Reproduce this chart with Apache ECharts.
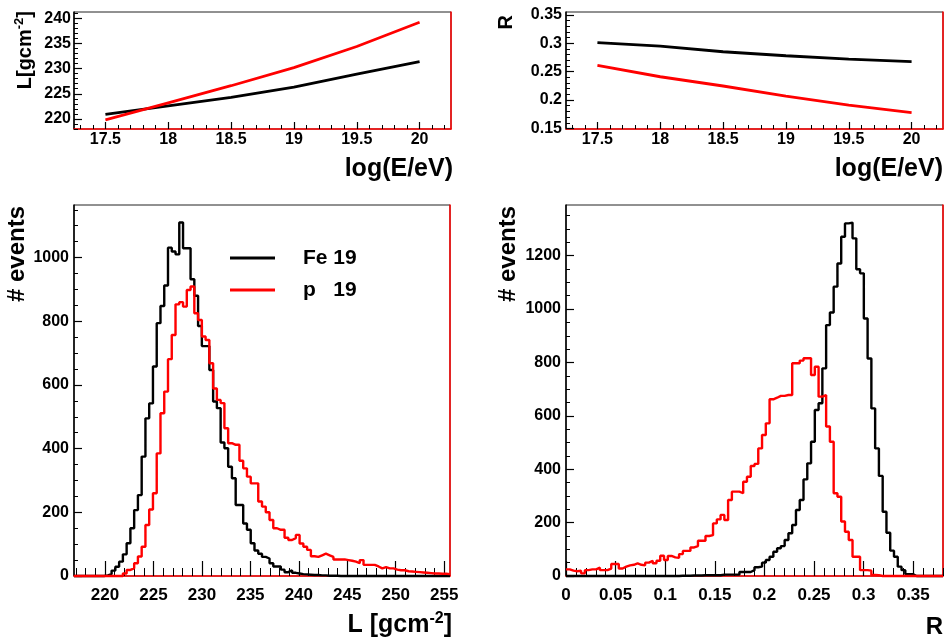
<!DOCTYPE html>
<html><head><meta charset="utf-8">
<script src="https://cdn.jsdelivr.net/npm/echarts@6/dist/echarts.min.js"></script>
<style>html,body{margin:0;padding:0;background:#fff}#c{width:947px;height:642px}</style>
</head><body><div id="c"></div>
<script>
// ---- data: top panels (vs log(E/eV)) ----
const energy   = [17.5, 18, 18.5, 19, 19.5, 20];
const lengthFe = [220.9, 222.6, 224.3, 226.3, 228.9, 231.4];
const lengthP  = [219.8, 223.2, 226.6, 230.2, 234.4, 239.2];
const ratioFe  = [0.301, 0.295, 0.285, 0.278, 0.272, 0.2676];
const ratioP   = [0.261, 0.241, 0.2247, 0.207, 0.191, 0.178];

// ---- data: histograms (100 bins each) ----
const histLRange = [216.8, 255.6];
const histRRange = [0, 0.38];
const histLFe = [
  0,0,0,0,0,0,0,0,2,6,
  17,29,45,68,103,150,207,254,375,495,
  542,658,794,848,912,1031,1019,1010,1110,1029,
  1029,932,880,785,722,722,647,548,527,419,
  401,343,307,223,223,165,145,103,80,70,
  60,55,40,30,30,20,12,18,10,8,
  6,5,4,3,3,2,2,1,1,1,
  0,0,0,0,0,0,0,0,0,0,
  0,0,0,0,0,0,0,0,0,0,
  0,0,0,0,0,0,0,0,0,0];
const histLP = [
  0,0,0,0,0,0,0,0,0,0,
  0,0,0,8,19,24,40,61,92,160,
  209,260,385,511,579,681,757,853,860,846,
  898,909,825,804,752,741,668,589,553,543,
  464,417,412,412,362,338,312,291,291,234,
  218,200,176,150,145,145,120,113,119,129,
  102,92,82,62,60,65,70,65,60,52,
  52,52,50,48,45,40,50,35,35,35,
  30,24,28,24,24,20,18,18,15,14,
  13,12,11,10,9,8,8,7,7,6];
const histRFe = [
  0,0,0,0,0,0,0,0,0,0,
  0,0,0,0,0,0,0,0,0,0,
  0,0,0,0,0,0,0,0,0,0,
  1,1,1,2,2,2,3,3,3,3,
  3,5,5,5,5,5,15,15,15,22,
  33,35,50,60,72,91,104,112,135,160,
  191,247,285,362,422,503,622,647,778,940,
  987,1084,1171,1271,1321,1324,1265,1149,1134,965,
  815,628,478,375,241,162,95,72,35,22,
  7,7,0,0,0,0,0,0,0,0];
const histRP = [
  25,20,18,20,10,22,25,25,31,22,
  22,28,45,45,28,35,40,42,47,42,
  40,50,57,48,57,76,60,75,70,68,
  82,94,94,107,112,132,132,150,153,197,
  212,229,210,285,316,316,310,353,372,412,
  420,478,528,572,662,668,675,675,678,678,
  797,797,807,816,816,753,784,672,678,560,
  503,310,297,204,166,135,72,72,22,22,
  20,4,3,0,0,0,0,0,0,0,
  0,0,0,0,0,0,0,0,0,0];

// ---- tick labels ----
const ticksE     = [17.5, 18, 18.5, 19, 19.5, 20];
const ticksL     = [220, 225, 230, 235, 240];
const ticksR     = [0.15, 0.2, 0.25, 0.3, 0.35];
const ticksHistL = [220, 225, 230, 235, 240, 245, 250, 255];
const ticksEvL   = [0, 200, 400, 600, 800, 1000];
const ticksHistR = [0, 0.05, 0.1, 0.15, 0.2, 0.25, 0.3, 0.35];
const ticksEvR   = [0, 200, 400, 600, 800, 1000, 1200];

const legendNames = ['Fe 19', 'p   19'];

// ---------------------------------------------------------------
const FONT = "'Liberation Sans', Arial, Helvetica, sans-serif";
const BLACK = '#000000', RED = '#ff0000';
function steps(a, b, s) { const o = []; for (let v = a; v <= b + 1e-9; v += s) o.push(+v.toFixed(6)); return o; }
function fmt(v) { return String(parseFloat(Number(v).toFixed(4))); }
function histData(vals, range) {
  const w = (range[1] - range[0]) / vals.length;
  const d = vals.map((v, i) => [range[0] + i * w, v]);
  d.push([range[1], vals[vals.length - 1]]);
  return d;
}
const grids = [
  { left: 74,  top: 12,  width: 377, height: 117 },
  { left: 566, top: 12,  width: 377, height: 117 },
  { left: 74,  top: 205, width: 376, height: 371 },
  { left: 566, top: 205, width: 377, height: 371 }
].map(g => Object.assign({ show: true, borderColor: '#222', borderWidth: 1, backgroundColor: 'transparent' }, g));

const xAxis = [], yAxis = [];
function addX(gi, min, max, majors, minors, majLen, minLen, margin, fs) {
  const idx = xAxis.length;
  xAxis.push({ type: 'value', gridIndex: gi, min, max, position: 'bottom',
    axisLine: { show: true, onZero: false, lineStyle: { color: RED, width: 1.5 } },
    axisTick: { show: true, inside: true, length: majLen, customValues: majors, lineStyle: { color: BLACK, width: 1.2 } },
    axisLabel: { show: true, customValues: majors, margin, formatter: fmt, color: BLACK, fontFamily: FONT, fontWeight: 'bold', fontSize: fs },
    splitLine: { show: false } });
  xAxis.push({ type: 'value', gridIndex: gi, min, max, position: 'bottom',
    axisLine: { show: false, onZero: false },
    axisTick: { show: true, inside: true, length: minLen, customValues: minors, lineStyle: { color: BLACK, width: 1 } },
    axisLabel: { show: false }, splitLine: { show: false } });
  return idx;
}
function addY(gi, min, max, majors, minors, majLen, minLen, margin, fs) {
  const idx = yAxis.length;
  yAxis.push({ type: 'value', gridIndex: gi, min, max, position: 'left',
    axisLine: { show: true, onZero: false, lineStyle: { color: BLACK, width: 1.5 } },
    axisTick: { show: true, inside: true, length: majLen, customValues: majors, lineStyle: { color: BLACK, width: 1.2 } },
    axisLabel: { show: true, customValues: majors, margin, formatter: fmt, color: BLACK, fontFamily: FONT, fontWeight: 'bold', fontSize: fs },
    splitLine: { show: false } });
  yAxis.push({ type: 'value', gridIndex: gi, min, max, position: 'left',
    axisLine: { show: false, onZero: false },
    axisTick: { show: true, inside: true, length: minLen, customValues: minors, lineStyle: { color: BLACK, width: 1 } },
    axisLabel: { show: false }, splitLine: { show: false } });
  yAxis.push({ type: 'value', gridIndex: gi, min, max, position: 'right',
    axisLine: { show: true, onZero: false, lineStyle: { color: RED, width: 1.5 } },
    axisTick: { show: false }, axisLabel: { show: false }, splitLine: { show: false } });
  return idx;
}

const x0 = addX(0, 17.25, 20.25, ticksE, steps(17.3, 20.2, 0.1), 7, 4, 3, 16);
const y0 = addY(0, 218, 241.25, ticksL, steps(218, 241, 1), 8, 4, 3, 16);
const x1 = addX(1, 17.25, 20.25, ticksE, steps(17.3, 20.2, 0.1), 7, 4, 3, 16);
const y1 = addY(1, 0.149, 0.355, ticksR, steps(0.15, 0.35, 0.01), 8, 4, 4, 16);
const x2 = addX(2, histLRange[0], histLRange[1], ticksHistL, steps(217, 255, 1), 15, 8, 11, 17);
const y2 = addY(2, 0, 1165, ticksEvL, steps(0, 1150, 50), 8, 4, 5, 16);
const x3 = addX(3, histRRange[0], histRRange[1], ticksHistR, steps(0, 0.38, 0.01), 15, 8, 11, 17);
const y3 = addY(3, 0, 1390, ticksEvR, steps(0, 1350, 50), 8, 4, 5, 16);

function curve(name, xs, ys, color, xi, yi) {
  return { name, type: 'line', xAxisIndex: xi, yAxisIndex: yi, data: xs.map((x, i) => [x, ys[i]]),
    symbol: 'none', color, lineStyle: { color, width: 2.8 }, itemStyle: { color }, clip: false, silent: true };
}
function hist(name, vals, range, color, xi, yi) {
  return { name, type: 'line', xAxisIndex: xi, yAxisIndex: yi, data: histData(vals, range), step: 'end',
    symbol: 'none', color, lineStyle: { color, width: 2.4 }, itemStyle: { color }, clip: false, silent: true };
}

const series = [
  curve('Fe L', energy, lengthFe, BLACK, x0, y0),
  curve('p L', energy, lengthP, RED, x0, y0),
  curve('Fe R', energy, ratioFe, BLACK, x1, y1),
  curve('p R', energy, ratioP, RED, x1, y1),
  hist(legendNames[0], histLFe, histLRange, BLACK, x2, y2),
  hist(legendNames[1], histLP, histLRange, RED, x2, y2),
  hist('Fe R hist', histRFe, histRRange, BLACK, x3, y3),
  hist('p R hist', histRP, histRRange, RED, x3, y3)
];

function title(text, x, y, size, rotated, rich) {
  const st = { text, font: `bold ${size}px ${FONT}`, fill: BLACK,
    align: 'right', verticalAlign: 'middle', textAlign: 'right', textVerticalAlign: 'middle' };
  if (rich) st.rich = rich;
  return { type: 'text', x, y, rotation: rotated ? Math.PI / 2 : 0, style: st, silent: true };
}
function supRich(size) {
  return {
    a: { fontSize: size, fontWeight: 'bold', fontFamily: FONT, color: BLACK, lineHeight: size + 4 },
    s: { fontSize: Math.round(size * 0.65), fontWeight: 'bold', fontFamily: FONT, color: BLACK, verticalAlign: 'top', lineHeight: Math.round(size * 0.65) }
  };
}

const option = {
  animation: false,
  backgroundColor: '#ffffff',
  grid: grids,
  xAxis, yAxis, series,
  legend: {
    data: legendNames, orient: 'vertical', left: 230, top: 247, padding: 0,
    icon: 'rect', itemWidth: 45, itemHeight: 3, itemGap: 10, selectedMode: false,
    textStyle: { fontFamily: FONT, fontWeight: 'bold', fontSize: 21, color: BLACK, lineHeight: 22, padding: [0, 0, 0, 23] }
  },
  graphic: [
    title('log(E/eV)', 453, 169, 25, false),
    title('log(E/eV)', 943, 169, 25, false),
    title('{a|L[gcm}{s|-2}{a|]}', 25, 11, 20, true, supRich(20)),
    title('R', 506, 15, 20, true),
    title('# events', 17, 206, 24, true),
    title('# events', 508, 206, 24, true),
    title('{a|L [gcm}{s|-2}{a|]}', 452, 625, 25, false, supRich(25)),
    title('R', 943, 627, 24, false)
  ]
};
const chart = echarts.init(document.getElementById('c'), null, { renderer: 'canvas' });
chart.setOption(option);
</script></body></html>
